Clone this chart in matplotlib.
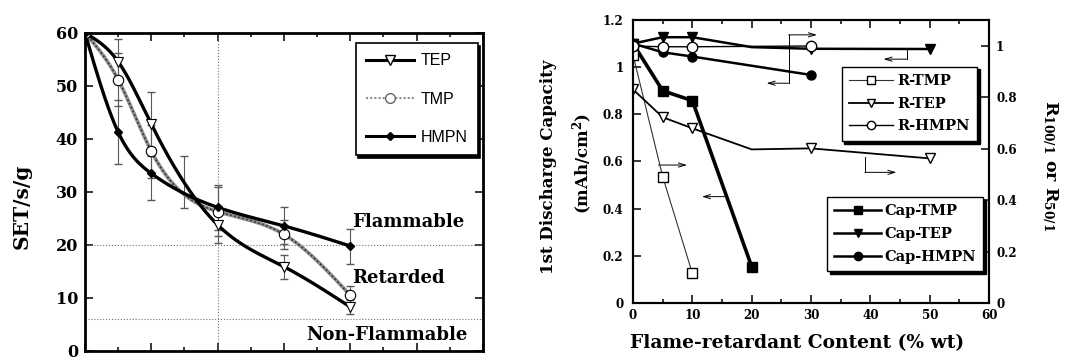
import numpy as np
import matplotlib.pyplot as plt
from matplotlib.lines import Line2D
from matplotlib.ticker import MultipleLocator, FormatStrFormatter

plt.rcParams['font.family'] = 'DejaVu Serif'
plt.rcParams['font.weight'] = 'bold'
plt.rcParams['mathtext.fontset'] = 'dejavuserif'
plt.rcParams['mathtext.default'] = 'bf'

# --- SET vs. additive (left panel) ---
set_x = [0, 1, 2, 4, 6, 8]
tep_set = [60, 54.6, 42.8, 23.8, 15.9, 8.3]
tep_err = [0, 4.3, 6.0, 3.5, 2.3, 1.3]
tmp_set = [60, 51.2, 37.7, 26.3, 22.0, 10.5]
tmp_err = [0, 5.0, 5.0, 4.6, 2.8, 1.8]
hmpn_set = [60, 41.3, 33.5, 27.1, 23.6, 19.8]
hmpn_err = [0, 6.0, 5.0, 4.2, 3.5, 3.3]
cross_x = [3]
cross_y = [31.8]
cross_err = [4.9]

# --- capacity and rate ratio (right panel) ---
cap_tmp_x = [0, 5, 10, 20]
cap_tmp = [1.10, 0.90, 0.858, 0.154]
cap_tep_x = [0, 5, 10, 20, 30, 50]
cap_tep = [1.10, 1.127, 1.127, 1.085, 1.078, 1.077]
cap_hmpn_x = [0, 5, 10, 30]
cap_hmpn = [1.10, 1.063, 1.045, 0.967]
r_tmp_x = [0, 5, 10]
r_tmp = [0.964, 0.491, 0.115]
r_tep_x = [0, 5, 10, 20, 30, 50]
r_tep = [0.830, 0.722, 0.679, 0.597, 0.601, 0.562]
r_hmpn_x = [0, 5, 10, 30]
r_hmpn = [0.999, 0.996, 0.996, 0.999]


def natural_spline(x, y, n=300):
    x = np.asarray(x, float)
    y = np.asarray(y, float)
    h = np.diff(x)
    m = len(x)
    A = np.zeros((m, m))
    b = np.zeros(m)
    A[0, 0] = A[-1, -1] = 1
    for i in range(1, m - 1):
        A[i, i - 1] = h[i - 1]
        A[i, i] = 2 * (h[i - 1] + h[i])
        A[i, i + 1] = h[i]
        b[i] = 6 * ((y[i + 1] - y[i]) / h[i] - (y[i] - y[i - 1]) / h[i - 1])
    M = np.linalg.solve(A, b)
    xs = np.linspace(x[0], x[-1], n)
    k = np.clip(np.searchsorted(x, xs) - 1, 0, m - 2)
    hh = x[k + 1] - x[k]
    t0 = x[k + 1] - xs
    t1 = xs - x[k]
    ys = (M[k] * t0**3 + M[k + 1] * t1**3) / (6 * hh) \
        + (y[k] / hh - M[k] * hh / 6) * t0 + (y[k + 1] / hh - M[k + 1] * hh / 6) * t1
    return xs, ys


def style_axes(ax, lw):
    for s in ax.spines.values():
        s.set_linewidth(lw)
    ax.tick_params(which='both', direction='in', top=True, width=1.1)
    ax.tick_params(which='major', length=6)
    ax.tick_params(which='minor', length=3)


fig = plt.figure(figsize=(10.65, 3.63), dpi=100)

# ---------------- left: smoke extinction time ----------------
ax1 = fig.add_axes([0.0798, 0.0331, 0.3737, 0.876])
ax1.set_xlim(0, 12)
ax1.set_ylim(0, 60)
ax1.xaxis.set_major_locator(MultipleLocator(2))
ax1.xaxis.set_minor_locator(MultipleLocator(1))
ax1.yaxis.set_major_locator(MultipleLocator(10))
ax1.set_xticklabels([])
style_axes(ax1, 2.0)
ax1.tick_params(right=True, labelsize=11.5, pad=5)

ax1.axvline(4, ls=':', color='0.45', lw=0.8)
ax1.axhline(20, ls=':', color='0.45', lw=0.8)
ax1.axhline(6, ls=':', color='0.45', lw=0.8)

ax1.errorbar(set_x, tep_set, yerr=tep_err, fmt='none', ecolor='0.35', elinewidth=0.8, capsize=3)
ax1.errorbar(set_x, tmp_set, yerr=tmp_err, fmt='none', ecolor='0.35', elinewidth=0.8, capsize=3)
ax1.errorbar(set_x, hmpn_set, yerr=hmpn_err, fmt='none', ecolor='0.35', elinewidth=0.8, capsize=3)
ax1.errorbar(cross_x, cross_y, yerr=cross_err, fmt='none', ecolor='0.35', elinewidth=0.8, capsize=3)

xs, ys = natural_spline(set_x, tmp_set)
ax1.plot(xs, ys, color='0.55', lw=2.6)
ax1.plot(xs, ys, color='0.2', lw=1.2, ls=(0, (1, 1.5)))
xs, ys = natural_spline(set_x, tep_set)
ax1.plot(xs, ys, color='black', lw=2.4)
xs, ys = natural_spline(set_x, hmpn_set)
ax1.plot(xs, ys, color='black', lw=2.4)

ax1.plot(set_x, tep_set, 'v', mfc='white', mec='black', ms=7.5, mew=0.8)
ax1.plot(set_x, tmp_set, 'o', mfc='white', mec='black', ms=7.5, mew=0.8)
ax1.plot(set_x, hmpn_set, 'D', color='black', ms=4.5)

ax1.text(8.05, 24.3, 'Flammable', fontsize=13, va='center')
ax1.text(8.05, 13.7, 'Retarded', fontsize=13, va='center')
ax1.text(6.68, 3.1, 'Non-Flammable', fontsize=13, va='center')

fig.text(22 / 1065, 1 - 206 / 363, 'SET/s/g', rotation=90, fontsize=14.5,
         ha='center', va='center')

shadow = {'color': 'black', 'alpha': 1}

h_left = [
    Line2D([], [], color='black', lw=2.2, marker='v', mfc='white', mec='black', ms=7),
    Line2D([], [], color='0.55', lw=1.5, ls=(0, (1, 1)), marker='o', mfc='white', mec='0.4', ms=7),
    Line2D([], [], color='black', lw=2.2, marker='D', ms=4),
]
leg1 = ax1.legend(h_left, ['TEP', 'TMP', 'HMPN'], loc='upper left',
                  bbox_to_anchor=(0.68, 0.9686), borderaxespad=0, fancybox=False,
                  edgecolor='black', framealpha=1, shadow=shadow,
                  prop={'family': 'Liberation Sans', 'weight': 'normal', 'size': 11.5},
                  handlelength=3.0, handletextpad=0.4, labelspacing=1.45, borderpad=0.65)
leg1.get_frame().set_linewidth(1.2)

# ---------------- right: capacity and rate capability ----------------
ax2 = fig.add_axes([0.5944, 0.1653, 0.3343, 0.7796])
ax2.set_xlim(0, 60)
ax2.set_ylim(0, 1.2)
ax2.xaxis.set_major_locator(MultipleLocator(10))
ax2.xaxis.set_minor_locator(MultipleLocator(5))
ax2.yaxis.set_major_locator(MultipleLocator(0.2))
ax2.yaxis.set_major_formatter(FormatStrFormatter('%g'))
style_axes(ax2, 1.5)
ax2.tick_params(labelsize=8.6)
ax2.tick_params(axis='y', pad=7)
ax2.tick_params(axis='x', pad=4)

ax3 = ax2.twinx()
ax3.set_ylim(0, 1.1)
ax3.yaxis.set_major_locator(MultipleLocator(0.2))
ax3.yaxis.set_major_formatter(FormatStrFormatter('%g'))
ax3.tick_params(direction='in', length=6, width=1.1, labelsize=8.6, pad=5)
for s in ax3.spines.values():
    s.set_linewidth(1.5)

ax2.plot(cap_tmp_x, cap_tmp, color='black', lw=2.6, marker='s', ms=6.5)
ax2.plot(cap_tep_x, cap_tep, color='black', lw=1.8, marker='v', ms=7,
         markevery=[0, 1, 2, 4, 5])
ax2.plot(cap_hmpn_x, cap_hmpn, color='black', lw=1.8, marker='o', ms=6.5)

ax3.plot(r_tmp_x, r_tmp, color='0.2', lw=0.8, marker='s', mfc='white', mec='black', ms=7)
ax3.plot(r_tep_x, r_tep, color='black', lw=1.3, marker='v', mfc='white', mec='black', ms=7,
         markevery=[0, 1, 2, 4, 5])
ax3.plot(r_hmpn_x, r_hmpn, color='black', lw=1.0, marker='o', mfc='white', mec='black', ms=7.5)


def bent_arrow(ax, pts):
    px = [p[0] for p in pts]
    py = [p[1] for p in pts]
    ax.plot(px[:-1], py[:-1], color='black', lw=0.7)
    ax.annotate('', xy=pts[-1], xytext=pts[-2],
                arrowprops=dict(arrowstyle='->,head_length=0.5,head_width=0.15',
                                lw=0.7, color='black', shrinkA=0, shrinkB=0))


bent_arrow(ax2, [(26.2, 1.035), (26.2, 1.137), (31.0, 1.137)])
bent_arrow(ax2, [(26.2, 1.035), (26.2, 0.932), (22.5, 0.932)])
bent_arrow(ax2, [(46.1, 1.080), (46.1, 1.034), (42.2, 1.034)])
bent_arrow(ax2, [(39.1, 0.620), (39.1, 0.554), (44.4, 0.554)])
bent_arrow(ax2, [(4.3, 0.585), (9.1, 0.585)])
bent_arrow(ax2, [(15.5, 0.451), (11.6, 0.451)])

h_r = [
    Line2D([], [], color='0.2', lw=0.8, marker='s', mfc='white', mec='black', ms=6),
    Line2D([], [], color='black', lw=1.3, marker='v', mfc='white', mec='black', ms=6),
    Line2D([], [], color='black', lw=1.0, marker='o', mfc='white', mec='black', ms=6),
]
leg_r = ax3.legend(h_r, ['R-TMP', 'R-TEP', 'R-HMPN'], loc='upper left',
                   bbox_to_anchor=(0.586, 0.835), borderaxespad=0, fancybox=False,
                   edgecolor='black', framealpha=1, shadow=shadow,
                   prop={'size': 10.5}, handlelength=3.0, handletextpad=0.3,
                   labelspacing=0.6, borderpad=0.5)
leg_r.get_frame().set_linewidth(1.0)
ax3.add_artist(leg_r)

h_c = [
    Line2D([], [], color='black', lw=1.8, marker='s', ms=6),
    Line2D([], [], color='black', lw=1.8, marker='v', ms=6),
    Line2D([], [], color='black', lw=1.8, marker='o', ms=6),
]
leg_c = ax3.legend(h_c, ['Cap-TMP', 'Cap-TEP', 'Cap-HMPN'], loc='upper left',
                   bbox_to_anchor=(0.545, 0.375), borderaxespad=0, fancybox=False,
                   edgecolor='black', framealpha=1, shadow=shadow,
                   prop={'size': 10.5}, handlelength=3.2, handletextpad=0.2,
                   labelspacing=0.6, borderpad=0.5)
leg_c.get_frame().set_linewidth(1.0)

fig.text(797 / 1065, 1 - 343 / 363, 'Flame-retardant Content (% wt)', fontsize=13.4,
         ha='center', va='center')
fig.text(548 / 1065, 1 - 167 / 363, '1st Discharge Capacity', rotation=90, fontsize=12,
         ha='center', va='center')
fig.text(583 / 1065, 1 - 163 / 363, '(mAh/cm$^2$)', rotation=90, fontsize=12,
         ha='center', va='center')
fig.text(1050 / 1065, 1 - 166 / 363, r'R$_{100/1}$ or R$_{50/1}$', rotation=270,
         fontsize=12.5, ha='center', va='center')

fig.savefig('out.png', dpi=100)
